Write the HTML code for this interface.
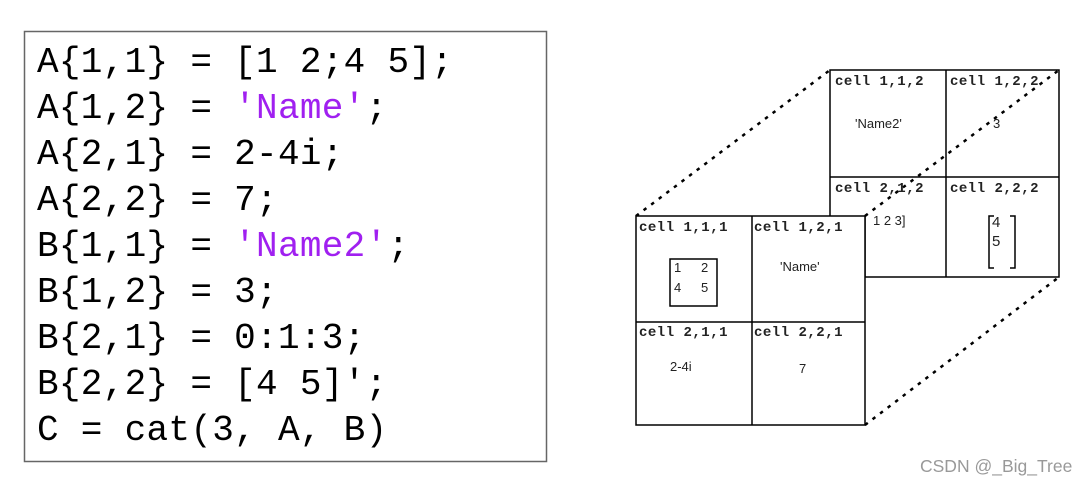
<!DOCTYPE html>
<html><head><meta charset="utf-8"><style>
html,body{margin:0;padding:0;background:#fff;width:1090px;height:485px;overflow:hidden}
</style></head><body>
<svg width="1090" height="485" xmlns="http://www.w3.org/2000/svg" style="position:absolute;left:0;top:0">
<rect x="24.5" y="31.5" width="522" height="430" fill="#fff" stroke="#666" stroke-width="1.5"/>
<g font-family="Liberation Mono, monospace" font-size="36" fill="#000" letter-spacing="0.3">
<text x="37" y="72">A{1,1} = [1 2;4 5];</text>
<text x="37" y="118">A{1,2} = <tspan fill="#a020f0">'Name'</tspan>;</text>
<text x="37" y="164">A{2,1} = 2-4i;</text>
<text x="37" y="210">A{2,2} = 7;</text>
<text x="37" y="256">B{1,1} = <tspan fill="#a020f0">'Name2'</tspan>;</text>
<text x="37" y="302">B{1,2} = 3;</text>
<text x="37" y="348">B{2,1} = 0:1:3;</text>
<text x="37" y="394">B{2,2} = [4 5]';</text>
<text x="37" y="440">C = cat(3, A, B)</text>
</g>
<g stroke="#000" stroke-width="2.5" stroke-dasharray="3.5,6" fill="none">
<line x1="636" y1="216" x2="830" y2="70"/>
<line x1="865" y1="425" x2="1059" y2="277"/>
<line x1="865" y1="216" x2="1059" y2="70"/>
</g>
<g stroke="#000" stroke-width="1.5" fill="none">
<polyline points="865,216 865,277 1059,277 1059,70 830,70 830,216"/>
<line x1="946" y1="70" x2="946" y2="277"/>
<line x1="865" y1="177" x2="1059" y2="177"/>
<line x1="830" y1="177" x2="865" y2="177"/>
<rect x="636" y="216" width="229" height="209" fill="#fff"/>
<line x1="752" y1="216" x2="752" y2="425"/>
<line x1="636" y1="322" x2="865" y2="322"/>
<rect x="670" y="259" width="47" height="47"/>
<polyline points="994,216 989,216 989,268 994,268"/>
<polyline points="1010,216 1015,216 1015,268 1010,268"/>
</g>
<g font-family="Liberation Mono, monospace" font-size="14" font-weight="bold" fill="#222" letter-spacing="0.5">
<text x="835" y="85">cell 1,1,2</text>
<text x="950" y="85">cell 1,2,2</text>
<text x="835" y="192">cell 2,1,2</text>
<text x="950" y="192">cell 2,2,2</text>
<text x="639" y="231">cell 1,1,1</text>
<text x="754" y="231">cell 1,2,1</text>
<text x="639" y="336">cell 2,1,1</text>
<text x="754" y="336">cell 2,2,1</text>
</g>
<g font-family="Liberation Sans, sans-serif" font-size="13" fill="#222">
<text x="855" y="128">'Name2'</text>
<text x="993" y="128">3</text>
<text x="873" y="225">1 2 3]</text>
<text x="992" y="227" font-size="15">4</text>
<text x="992" y="246" font-size="15">5</text>
<text x="674" y="272">1</text><text x="701" y="272">2</text>
<text x="674" y="292">4</text><text x="701" y="292">5</text>
<text x="780" y="271">'Name'</text>
<text x="670" y="371">2-4i</text>
<text x="799" y="373">7</text>
</g>
<text x="920" y="472" font-family="Liberation Sans, sans-serif" font-size="17.5" fill="#999">CSDN @_Big_Tree</text>
</svg>
</body></html>
